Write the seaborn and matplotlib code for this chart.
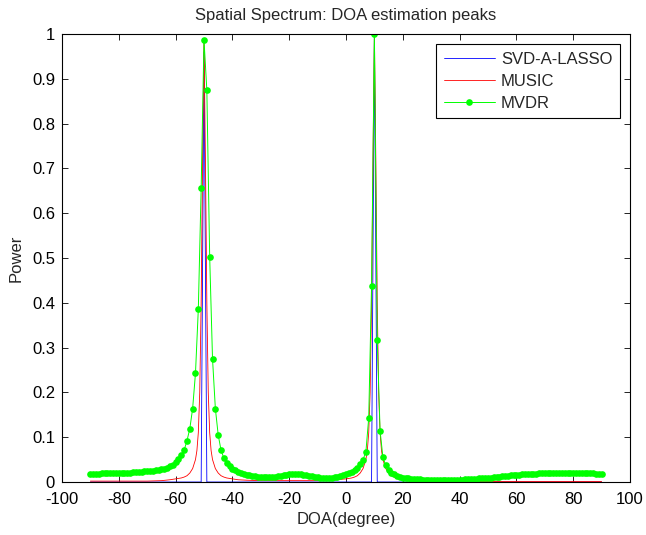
import numpy as np
import pandas as pd
import matplotlib
matplotlib.use("Agg")
import matplotlib.pyplot as plt
import seaborn as sns

# ---------------- data ----------------
title = "Spatial Spectrum: DOA estimation peaks"
x_label = "DOA(degree)"
y_label = "Power"
series_names = ["SVD-A-LASSO", "MUSIC", "MVDR"]

x_ticks = [-100, -80, -60, -40, -20, 0, 20, 40, 60, 80, 100]
y_ticks = [0, 0.1, 0.2, 0.3, 0.4, 0.5, 0.6, 0.7, 0.8, 0.9, 1.0]
y_tick_labels = ["0", "0.1", "0.2", "0.3", "0.4", "0.5", "0.6", "0.7", "0.8", "0.9", "1"]

# SVD-A-LASSO (sparse spectrum)
svd_doa = [-90, -51, -50, -49, 9, 10, 11, 90]
svd_power = [0, 0, 0.96, 0, 0, 1.0, 0, 0]

# MUSIC
music_doa = [-90, -85, -80, -75, -70, -65, -62, -60, -58, -57, -56, -55, -54,
             -53.5, -53, -52.5, -52, -51.5, -51, -50.5, -50, -49.5, -49, -48.5,
             -48, -47.5, -47, -46.5, -46, -45, -44, -43, -42, -40, -38, -35, -30,
             -20, -10, -5, 0, 2, 3, 4, 5, 5.5, 6, 6.5, 7, 7.5, 8, 8.5, 9, 9.5, 10,
             10.5, 11, 11.5, 12, 12.5, 13, 13.5, 14, 15, 16, 17, 18, 20, 22, 25,
             30, 40, 50, 60, 70, 80, 90]
music_power = [0.002, 0.002, 0.002, 0.002, 0.002, 0.003, 0.005, 0.007, 0.009, 0.011, 0.014, 0.02, 0.03,
               0.04, 0.05, 0.07, 0.11, 0.20, 0.40, 0.72, 0.99, 0.72, 0.40, 0.20,
               0.11, 0.07, 0.05, 0.04, 0.03, 0.02, 0.014, 0.011, 0.009, 0.007, 0.005, 0.004, 0.003,
               0.003, 0.003, 0.004, 0.007, 0.009, 0.011, 0.014, 0.02, 0.025, 0.03, 0.04, 0.05, 0.07, 0.11, 0.20, 0.40, 0.72, 1.0,
               0.72, 0.40, 0.20, 0.11, 0.07, 0.05, 0.04, 0.03, 0.02, 0.014, 0.011, 0.009, 0.007, 0.005, 0.004,
               0.003, 0.002, 0.001, 0.001, 0.001, 0.001, 0.001]

# MVDR, one value per degree from -90 to 90
mvdr_power = [
    0.018, 0.018, 0.018, 0.018, 0.019, 0.019, 0.019, 0.019, 0.020, 0.020,   # -90..-81
    0.020, 0.020, 0.021, 0.021, 0.021, 0.022, 0.022, 0.023, 0.023, 0.024,   # -80..-71
    0.024, 0.025, 0.025, 0.026, 0.027, 0.028, 0.030, 0.032, 0.035, 0.039,   # -70..-61
    0.044, 0.051, 0.060, 0.071, 0.092, 0.119, 0.164, 0.243, 0.386, 0.656,   # -60..-51
    0.987, 0.875, 0.503, 0.275, 0.164, 0.105, 0.071, 0.053, 0.042, 0.035,   # -50..-41
    0.030, 0.026, 0.023, 0.020, 0.018, 0.016, 0.015, 0.014, 0.013, 0.012,   # -40..-31
    0.012, 0.011, 0.011, 0.011, 0.012, 0.012, 0.013, 0.014, 0.015, 0.016,   # -30..-21
    0.017, 0.018, 0.018, 0.018, 0.017, 0.016, 0.015, 0.014, 0.013, 0.012,   # -20..-11
    0.011, 0.010, 0.010, 0.009, 0.009, 0.010, 0.011, 0.012, 0.013, 0.015,   # -10..-1
    0.017, 0.019, 0.022, 0.026, 0.032, 0.040, 0.050, 0.067, 0.143, 0.438,   # 0..9
    1.000, 0.317, 0.114, 0.055, 0.037, 0.027, 0.021, 0.017, 0.014, 0.012,   # 10..19
    0.010, 0.009, 0.008, 0.007, 0.007, 0.006, 0.006, 0.005, 0.005, 0.005,   # 20..29
    0.004, 0.004, 0.004, 0.004, 0.004, 0.004, 0.004, 0.004, 0.005, 0.005,   # 30..39
    0.005, 0.005, 0.006, 0.006, 0.006, 0.007, 0.007, 0.008, 0.008, 0.009,   # 40..49
    0.010, 0.010, 0.011, 0.012, 0.012, 0.013, 0.014, 0.014, 0.015, 0.015,   # 50..59
    0.016, 0.016, 0.017, 0.017, 0.017, 0.018, 0.018, 0.018, 0.019, 0.019,   # 60..69
    0.019, 0.019, 0.019, 0.019, 0.019, 0.019, 0.019, 0.019, 0.019, 0.019,   # 70..79
    0.019, 0.019, 0.019, 0.019, 0.019, 0.019, 0.019, 0.019, 0.018, 0.018,   # 80..89
    0.018,                                                                  # 90
]
mvdr_doa = np.arange(-90, 91, 1)

# ---------------- plot ----------------
sns.set_style("ticks")
plt.rcParams["font.family"] = ["Liberation Sans", "DejaVu Sans"]
plt.rcParams["xtick.direction"] = "in"
plt.rcParams["ytick.direction"] = "in"

FS = 12

fig = plt.figure(figsize=(6.46, 5.35), dpi=100)
ax = fig.add_axes([62 / 646, 1 - 482 / 535, (630 - 62) / 646, (482 - 34) / 535])

sns.lineplot(x=svd_doa, y=svd_power, ax=ax, color=(0, 0, 1), linewidth=0.6,
             label=series_names[0])
sns.lineplot(x=music_doa, y=music_power, ax=ax, color=(1, 0, 0), linewidth=0.6,
             label=series_names[1])
sns.lineplot(x=mvdr_doa, y=mvdr_power, ax=ax, color=(0, 1, 0), linewidth=0.7,
             marker="o", markersize=4.8, markeredgewidth=0, markerfacecolor=(0, 1, 0),
             label=series_names[2])

ax.set_xlim(-100, 100)
ax.set_ylim(0, 1)
ax.set_xticks(x_ticks)
ax.set_xticklabels([str(t) for t in x_ticks])
ax.set_yticks(y_ticks)
ax.set_yticklabels(y_tick_labels)
ax.tick_params(axis="both", which="both", direction="in", top=True, right=True,
               length=4, width=0.6, labelsize=FS, colors="black")
ax.tick_params(axis="x", pad=7)
ax.tick_params(axis="y", pad=5)
for s in ax.spines.values():
    s.set_visible(True)
    s.set_linewidth(0.8)
    s.set_color("black")

ax.set_title(title, fontsize=FS, pad=10)
ax.set_xlabel(x_label, fontsize=FS, labelpad=4)
ax.set_ylabel(y_label, fontsize=FS, labelpad=6)

leg = ax.legend(loc="upper right", fontsize=FS, frameon=True, fancybox=False,
                edgecolor="black", framealpha=1, borderaxespad=0.6,
                handlelength=3.1, handletextpad=0.35, labelspacing=0.42,
                borderpad=0.45)
leg.get_frame().set_linewidth(0.8)

ax.grid(False)
fig.savefig("out.png", dpi=100)
